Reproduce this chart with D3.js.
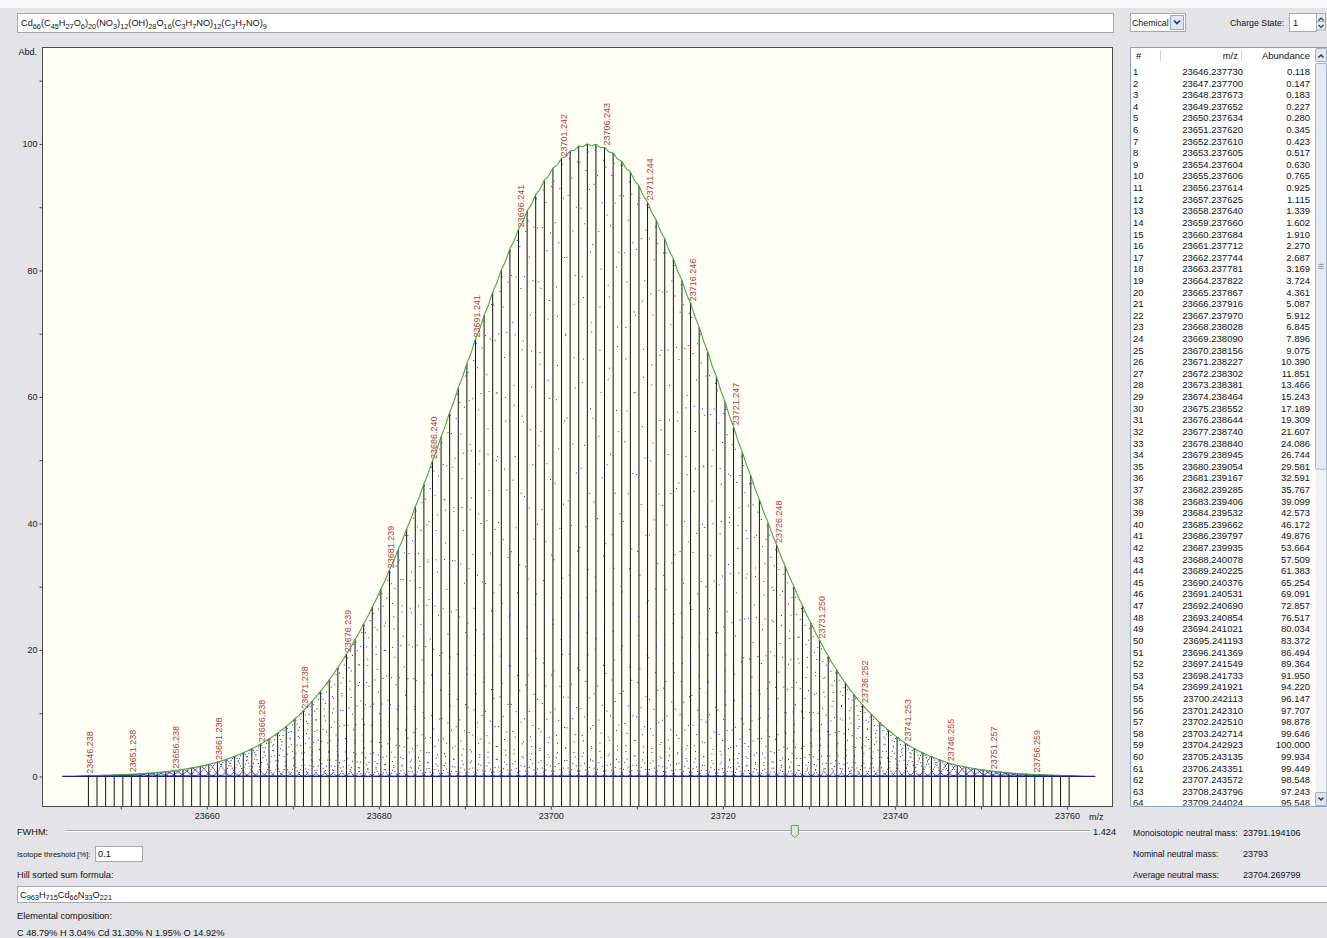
<!DOCTYPE html>
<html>
<head>
<meta charset="utf-8">
<script src="https://cdn.jsdelivr.net/npm/d3@7"></script>
<style>
  html, body { margin: 0; padding: 0; background: #e3e3e8; }
  svg { display: block; font-family: "Liberation Sans", Arial, sans-serif; }
</style>
</head>
<body>
<svg id="chart" width="1327" height="938"></svg>
<script>
// ---- isotope pattern: peak m/z values ----
const peakMz = [
  23646.237730, 23647.237700, 23648.237673, 23649.237652, 23650.237634, 23651.237620,
  23652.237610, 23653.237605, 23654.237604, 23655.237606, 23656.237614, 23657.237625,
  23658.237640, 23659.237660, 23660.237684, 23661.237712, 23662.237744, 23663.237781,
  23664.237822, 23665.237867, 23666.237916, 23667.237970, 23668.238028, 23669.238090,
  23670.238156, 23671.238227, 23672.238302, 23673.238381, 23674.238464, 23675.238552,
  23676.238644, 23677.238740, 23678.238840, 23679.238945, 23680.239054, 23681.239167,
  23682.239285, 23683.239406, 23684.239532, 23685.239662, 23686.239797, 23687.239935,
  23688.240078, 23689.240225, 23690.240376, 23691.240531, 23692.240690, 23693.240854,
  23694.241021, 23695.241193, 23696.241369, 23697.241549, 23698.241733, 23699.241921,
  23700.242113, 23701.242310, 23702.242510, 23703.242714, 23704.242923, 23705.243135,
  23706.243351, 23707.243572, 23708.243796, 23709.244024,
  23710.244, 23711.244, 23712.245, 23713.245, 23714.245, 23715.245, 23716.246, 23717.246,
  23718.246, 23719.247, 23720.247, 23721.247, 23722.247, 23723.248, 23724.248, 23725.248,
  23726.248, 23727.249, 23728.249, 23729.249, 23730.250, 23731.250, 23732.250, 23733.251,
  23734.251, 23735.251, 23736.252, 23737.252, 23738.252, 23739.253, 23740.253, 23741.253,
  23742.254, 23743.254, 23744.254, 23745.255, 23746.255, 23747.255, 23748.256, 23749.256,
  23750.256, 23751.257, 23752.257, 23753.258, 23754.258, 23755.258, 23756.259, 23757.259,
  23758.259, 23759.260, 23760.260
];

// ---- relative abundance of each peak (%) ----
const peakAbundance = [
  0.118, 0.147, 0.183, 0.227, 0.280, 0.345, 0.423, 0.517, 0.630, 0.765, 0.925, 1.115,
  1.339, 1.602, 1.910, 2.270, 2.687, 3.169, 3.724, 4.361, 5.087, 5.912, 6.845, 7.896,
  9.075, 10.390, 11.851, 13.466, 15.243, 17.189, 19.309, 21.607, 24.086, 26.744, 29.581, 32.591,
  35.767, 39.099, 42.573, 46.172, 49.876, 53.664, 57.509, 61.383, 65.254, 69.091, 72.857, 76.517,
  80.034, 83.372, 86.494, 89.364, 91.950, 94.220, 96.147, 97.707, 98.878, 99.646, 100.000, 99.934,
  99.449, 98.548, 97.243, 95.548,
  93.3, 90.8, 88.0, 84.9, 81.8, 78.4, 74.8, 71.0, 67.1, 63.2, 59.2, 55.2,
  51.3, 47.5, 43.7, 40.1, 36.6, 33.2, 30.0, 27.0, 24.2, 21.5, 19.0, 16.8,
  14.7, 12.9, 11.3, 9.8, 8.5, 7.3, 6.2, 5.2, 4.4, 3.7, 3.1, 2.6,
  2.1, 1.75, 1.47, 1.23, 1.02, 0.84, 0.69, 0.565, 0.46, 0.375, 0.305, 0.245,
  0.197, 0.158, 0.126
];

// ---- axes ----
const xTickValues = [23650, 23660, 23670, 23680, 23690, 23700, 23710, 23720, 23730, 23740, 23750, 23760];
const xTickLabels = [23660, 23680, 23700, 23720, 23740, 23760];
const yTickValues = [0, 10, 20, 30, 40, 50, 60, 70, 80, 90, 100, 110];
const yTickLabels = [0, 20, 40, 60, 80, 100];

// ---- form values ----
const sumFormula = "Cd66(C45H27O6)20(NO3)12(OH)28O16(C3H7NO)12(C3H7NO)9";
const hillFormula = "C963H715Cd66N33O221";
const chargeState = "1";
const ionMode = "Chemical";
const fwhm = 1.424;
const fwhmRange = [0, 2];
const isotopeThreshold = "0.1";
const compositionElements = ["C", "H", "Cd", "N", "O"];
const compositionPercent = ["48.79", "3.04", "31.30", "1.95", "14.92"];
const massLabels = ["Monoisotopic neutral mass:", "Nominal neutral mass:", "Average neutral mass:"];
const massValues = ["23791.194106", "23793", "23704.269799"];
const tableVisibleRows = 64;

// ---------------------------------------------------------------
const W = 1327, H = 938;
const FS = 9.2;
const svg = d3.select("#chart");
const defs = svg.append("defs");

svg.append("rect").attr("width", W).attr("height", H).attr("fill", "#e3e3e8");
svg.append("rect").attr("width", W).attr("height", 8).attr("fill", "#fafafa");

// text with numeric subscripts
function formulaText(parent, x0, yBase, formula, size) {
  const t = parent.append("text").attr("x", x0).attr("y", yBase)
    .attr("font-size", size).attr("fill", "#111");
  let inSub = false;
  formula.match(/\d+|\D+/g).forEach(part => {
    const digits = /^\d+$/.test(part);
    const ts = t.append("tspan").text(part);
    if (digits) {
      ts.attr("font-size", size * 0.8);
      if (!inSub) { ts.attr("dy", 2.8); inSub = true; }
    } else if (inSub) {
      ts.attr("dy", -2.8); inSub = false;
    }
  });
  return t;
}

function textBox(x0, y0, w, h) {
  svg.append("rect").attr("x", x0 + 0.5).attr("y", y0 + 0.5).attr("width", w).attr("height", h)
    .attr("fill", "#fff").attr("stroke", "#a4a8b0");
}

function label(x0, yBase, str, anchor, size) {
  return svg.append("text").attr("x", x0).attr("y", yBase).attr("font-size", size || FS)
    .attr("fill", "#111").attr("text-anchor", anchor || "start").text(str);
}

// ---- top row ----
textBox(17, 13, 1096, 19);
formulaText(svg, 21, 26, sumFormula, FS);

textBox(1130, 13, 55, 18);
label(1132, 25.5, ionMode, "start", 8.8);
svg.append("rect").attr("x", 1170.5).attr("y", 15.5).attr("width", 13).attr("height", 14)
  .attr("fill", "#dfe5f0").attr("stroke", "#98a8c0");
svg.append("path").attr("d", "M1174,20.5 L1177,23.5 L1180,20.5").attr("fill", "none")
  .attr("stroke", "#334").attr("stroke-width", 1.6);

label(1230, 25.5, "Charge State:", "start", 8.8);
textBox(1289, 13, 27, 18);
label(1293, 25.5, chargeState);
[[14, "M1318.5,20.5 L1321,18 L1323.5,20.5"], [22, "M1318.5,25 L1321,27.5 L1323.5,25"]].forEach(([yy, d]) => {
  svg.append("rect").attr("x", 1316.5).attr("y", yy - 0.5).attr("width", 9).attr("height", 8.5)
    .attr("fill", "#e6eaf2").attr("stroke", "#a0acc0");
  svg.append("path").attr("d", d).attr("fill", "none").attr("stroke", "#333").attr("stroke-width", 1.2);
});

// ---- spectrum plot ----
const plot = { left: 42.5, top: 47.5, right: 1112.5, bottom: 806.5 };
const x = d3.scaleLinear().domain([23640.9, 23765.3]).range([plot.left, plot.right]);
const y = d3.scaleLinear().domain([-4.75, 115.25]).range([plot.bottom, plot.top]);

defs.append("clipPath").attr("id", "plotClip")
  .append("rect").attr("x", plot.left).attr("y", plot.top)
  .attr("width", plot.right - plot.left).attr("height", plot.bottom - plot.top);

svg.append("rect").attr("x", plot.left).attr("y", plot.top)
  .attr("width", plot.right - plot.left).attr("height", plot.bottom - plot.top)
  .attr("fill", "#fffff6");

const g = svg.append("g").attr("clip-path", "url(#plotClip)");
const peaks = peakMz.map((m, i) => ({ mz: m, ab: peakAbundance[i], i }));

// sticks
g.append("g").selectAll("line").data(peaks).join("line")
  .attr("x1", d => x(d.mz)).attr("x2", d => x(d.mz))
  .attr("y1", y(-4.75)).attr("y2", d => y(d.ab))
  .attr("stroke", "#111").attr("stroke-width", 1);

// individual peak profiles (Gaussian of the given FWHM), sampled on a common m/z grid
const sigma = fwhm / (2 * Math.sqrt(2 * Math.LN2));
const gauss = (m, p) => p.ab * Math.exp(-((m - p.mz) ** 2) / (2 * sigma * sigma));
const lo = peakMz[0] - 3, hi = peakMz[peakMz.length - 1] + 3;
const grid = d3.range(lo, hi, 0.137);
const dots = [];
peaks.forEach(p => {
  grid.forEach(m => { if (Math.abs(m - p.mz) <= 3) dots.push({ m, v: gauss(m, p) }); });
});
g.append("g").selectAll("rect").data(dots).join("rect")
  .attr("x", d => x(d.m) - 0.5).attr("y", d => y(d.v) - 0.5)
  .attr("width", 1).attr("height", 1)
  .attr("fill", "#24249a");

// summed envelope, normalised to the base peak
const env = d3.range(lo, hi, 0.02).map(m => ({ m, s: d3.sum(peaks, p => gauss(m, p)) }));
const envMax = d3.max(env, d => d.s);
g.append("path").datum(env)
  .attr("d", d3.line().x(d => x(d.m)).y(d => y(d.s / envMax * 100)))
  .attr("fill", "none").attr("stroke", "#46a646").attr("stroke-width", 1.1);

// profile baseline
g.append("line").attr("x1", x(lo)).attr("x2", x(hi)).attr("y1", y(0)).attr("y2", y(0))
  .attr("stroke", "#1a1a9a").attr("stroke-width", 1.2);

// peak m/z annotations, every fifth peak
g.append("g").selectAll("text").data(peaks.filter(p => p.i % 5 === 0)).join("text")
  .attr("transform", d => `translate(${x(d.mz) + 5},${y(d.ab) - 2}) rotate(-90)`)
  .attr("font-size", 9).attr("fill", "#aa3c3c")
  .text(d => d.mz.toFixed(3));

// frame
svg.append("rect").attr("x", plot.left).attr("y", plot.top)
  .attr("width", plot.right - plot.left).attr("height", plot.bottom - plot.top)
  .attr("fill", "none").attr("stroke", "#4a4a4a");

// axes
const yAxis = d3.axisLeft(y).tickValues(yTickValues).tickSize(3).tickPadding(2)
  .tickFormat(d => yTickLabels.includes(d) ? d : "");
const yg = svg.append("g").attr("transform", `translate(${plot.left},0)`).call(yAxis);
yg.select(".domain").remove();
yg.selectAll("text").attr("font-size", 9).attr("fill", "#222").attr("font-family", null);
yg.selectAll("line").attr("stroke", "#4a4a4a");

const xAxis = d3.axisBottom(x).tickValues(xTickValues).tickSize(3).tickPadding(3)
  .tickFormat(d => xTickLabels.includes(d) ? d : "");
const xg = svg.append("g").attr("transform", `translate(0,${plot.bottom})`).call(xAxis);
xg.select(".domain").remove();
xg.selectAll("text").attr("font-size", 9).attr("fill", "#222").attr("font-family", null);
xg.selectAll("line").attr("stroke", "#4a4a4a");

label(37, 55, "Abd.", "end", 9);
label(1089, 820, "m/z", "start", 9);

// ---- peak list ----
const tbl = { left: 1130.5, top: 47.5, right: 1326.5, bottom: 806.5 };
svg.append("rect").attr("x", tbl.left).attr("y", tbl.top)
  .attr("width", tbl.right - tbl.left).attr("height", tbl.bottom - tbl.top)
  .attr("fill", "#fff").attr("stroke", "#8ea2bc");
defs.append("clipPath").attr("id", "tblClip")
  .append("rect").attr("x", tbl.left + 1).attr("y", 63).attr("width", 184).attr("height", tbl.bottom - 64);

const TFS = 9.5;
const colNum = 1133, colMz = 1243, colAb = 1310;
label(1136, 59, "#", "start", TFS);
label(1238, 59, "m/z", "end", TFS);
label(colAb, 59, "Abundance", "end", TFS);
[1160.5, 1241.5].forEach(xx => svg.append("line").attr("x1", xx).attr("x2", xx)
  .attr("y1", 50).attr("y2", 61).attr("stroke", "#d4d4d4"));

const rows = peaks.slice(0, tableVisibleRows);
const rowG = svg.append("g").attr("clip-path", "url(#tblClip)");
const rowH = 11.61;
rows.forEach((p, i) => {
  const yb = 75 + i * rowH;
  rowG.append("text").attr("x", colNum).attr("y", yb).attr("font-size", TFS).attr("fill", "#111").text(i + 1);
  rowG.append("text").attr("x", colMz).attr("y", yb).attr("font-size", TFS).attr("fill", "#111")
    .attr("text-anchor", "end").text(p.mz.toFixed(6));
  rowG.append("text").attr("x", colAb).attr("y", yb).attr("font-size", TFS).attr("fill", "#111")
    .attr("text-anchor", "end").text(p.ab.toFixed(3));
});

// scrollbar
const sbX = 1315.5;
svg.append("rect").attr("x", sbX).attr("y", 48).attr("width", 11).attr("height", 758).attr("fill", "#f3f3f6");
const thumbTop = 63, trackLen = 792 - 63;
const thumbLen = trackLen * tableVisibleRows / peaks.length;
svg.append("rect").attr("x", sbX).attr("y", thumbTop + 0.5).attr("width", 11).attr("height", thumbLen)
  .attr("fill", "#e4e9f3").attr("stroke", "#aab6cc").attr("rx", 1.5);
[-2, 0, 2].forEach(o => svg.append("line").attr("x1", sbX + 3).attr("x2", sbX + 8)
  .attr("y1", thumbTop + thumbLen / 2 + o + 0.5).attr("y2", thumbTop + thumbLen / 2 + o + 0.5)
  .attr("stroke", "#8c98b0"));
[[48.5, "M1318.5,57.5 L1321,55 L1323.5,57.5"], [792.5, "M1318.5,797.5 L1321,800 L1323.5,797.5"]].forEach(([yy, d]) => {
  svg.append("rect").attr("x", sbX).attr("y", yy).attr("width", 11).attr("height", 13)
    .attr("fill", "#dfe5f0").attr("stroke", "#a0b0c8").attr("rx", 1.5);
  svg.append("path").attr("d", d).attr("fill", "none").attr("stroke", "#334").attr("stroke-width", 1.5);
});

// ---- lower form ----
label(17, 835, "FWHM:");
const slider = d3.scaleLinear().domain(fwhmRange).range([65, 1090]);
svg.append("line").attr("x1", slider.range()[0]).attr("x2", slider.range()[1]).attr("y1", 830.5).attr("y2", 830.5).attr("stroke", "#a6a6a6");
svg.append("line").attr("x1", slider.range()[0]).attr("x2", slider.range()[1]).attr("y1", 831.5).attr("y2", 831.5).attr("stroke", "#ffffff");
const tx = slider(fwhm);
svg.append("path").attr("d", `M${tx - 3.5},825.5 h7 v9 l-3.5,3 l-3.5,-3 Z`)
  .attr("fill", "#dfe9d8").attr("stroke", "#6f8f6a");
label(1116, 835, fwhm.toFixed(3), "end");

// threshold caption, sized to fit in front of its input field
label(17, 856.5, "Isotope threshold [%]:", "start", 7.6);
textBox(95, 846, 47, 15);
label(98, 857, isotopeThreshold);

label(17, 877.5, "Hill sorted sum formula:");
textBox(17, 886, 1312, 16);
formulaText(svg, 20, 897.5, hillFormula, FS);

label(17, 918.5, "Elemental composition:");
label(17, 935.5, compositionElements.map((e, i) => `${e} ${compositionPercent[i]}%`).join(" "));

massLabels.forEach((t, i) => {
  label(1133, 835.5 + i * 21.3, t, "start", 8.6);
  label(1243, 835.5 + i * 21.3, massValues[i], "start", 9);
});
</script>
</body>
</html>
